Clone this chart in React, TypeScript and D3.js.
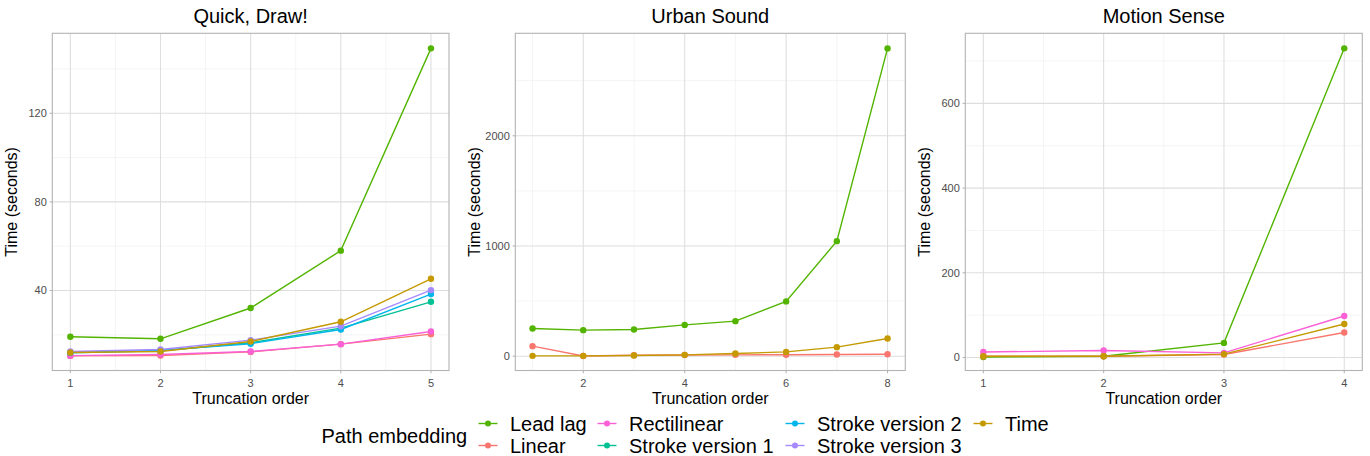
import { scaleLinear, line } from 'd3';

// series names in factor order (ggplot draws them in this order)
const embeddings = ['Lead lag', 'Linear', 'Rectilinear', 'Stroke version 1', 'Stroke version 2', 'Stroke version 3', 'Time'];
const embeddingColors = ['#53B400', '#F8766D', '#FB61D7', '#00C094', '#00B6EB', '#A58AFF', '#C49A00'];

// Quick, Draw! (truncation order 1..5)
const qdOrders = [1, 2, 3, 4, 5];
const qdLeadLag = [19.1, 18.2, 32.1, 58.0, 149.3];
const qdLinear = [10.5, 10.7, 12.3, 15.8, 20.3];
const qdRectilinear = [10.6, 11.1, 12.5, 15.8, 21.5];
const qdStroke1 = [11.9, 12.8, 16.4, 23.0, 34.9];
const qdStroke2 = [12.1, 13.0, 16.0, 22.4, 38.4];
const qdStroke3 = [12.5, 13.4, 17.6, 23.9, 40.2];
const qdTime = [12.0, 12.5, 17.0, 25.9, 45.3];

// Urban Sound (truncation order 1..8)
const usOrders = [1, 2, 3, 4, 5, 6, 7, 8];
const usLeadLag = [251, 236, 242, 284, 318, 497, 1044, 2793];
const usLinear = [91, 2, 8, 10, 12, 13, 15, 18];
const usTime = [3, 3, 6, 12, 24, 39, 82, 160];

// Motion Sense (truncation order 1..4)
const msOrders = [1, 2, 3, 4];
const msLeadLag = [1, 3, 34.5, 730];
const msLinear = [3, 3, 7, 59];
const msRectilinear = [13, 16.5, 11, 98];
const msTime = [3, 3, 8, 79];

type Series = { name: string; values: number[] };

type PanelSpec = {
  title: string;
  left: number;
  right: number;
  xDomain: [number, number];
  yDomain: [number, number];
  xTicks: number[];
  xMinor: number[];
  yTicks: number[];
  yMinor: number[];
  orders: number[];
  series: Series[];
};

const TOP = 33.3;
const BOTTOM = 370.5;
const FONT = '"Liberation Sans", Arial, Helvetica, sans-serif';

const panels: PanelSpec[] = [
  {
    title: 'Quick, Draw!',
    left: 52.3, right: 449,
    xDomain: [0.8, 5.2], yDomain: [3.9, 156.1],
    xTicks: [1, 2, 3, 4, 5], xMinor: [1.5, 2.5, 3.5, 4.5],
    yTicks: [40, 80, 120], yMinor: [20, 60, 100, 140],
    orders: qdOrders,
    series: [
      { name: 'Lead lag', values: qdLeadLag },
      { name: 'Linear', values: qdLinear },
      { name: 'Rectilinear', values: qdRectilinear },
      { name: 'Stroke version 1', values: qdStroke1 },
      { name: 'Stroke version 2', values: qdStroke2 },
      { name: 'Stroke version 3', values: qdStroke3 },
      { name: 'Time', values: qdTime },
    ],
  },
  {
    title: 'Urban Sound',
    left: 515.3, right: 905.3,
    xDomain: [0.66, 8.35], yDomain: [-130, 2930],
    xTicks: [2, 4, 6, 8], xMinor: [1, 3, 5, 7],
    yTicks: [0, 1000, 2000], yMinor: [500, 1500, 2500],
    orders: usOrders,
    series: [
      { name: 'Lead lag', values: usLeadLag },
      { name: 'Linear', values: usLinear },
      { name: 'Time', values: usTime },
    ],
  },
  {
    title: 'Motion Sense',
    left: 965.3, right: 1362.3,
    xDomain: [0.85, 4.15], yDomain: [-30.7, 765.5],
    xTicks: [1, 2, 3, 4], xMinor: [1.5, 2.5, 3.5],
    yTicks: [0, 200, 400, 600], yMinor: [100, 300, 500, 700],
    orders: msOrders,
    series: [
      { name: 'Lead lag', values: msLeadLag },
      { name: 'Linear', values: msLinear },
      { name: 'Rectilinear', values: msRectilinear },
      { name: 'Time', values: msTime },
    ],
  },
];

const colorOf = (name: string) => embeddingColors[embeddings.indexOf(name)];

function Panel({ p }: { p: PanelSpec }) {
  const x = scaleLinear().domain(p.xDomain).range([p.left, p.right]);
  const y = scaleLinear().domain(p.yDomain).range([BOTTOM, TOP]);
  const path = line<number>()
    .x((_, i) => x(p.orders[i]))
    .y((d) => y(d));
  const cx = (p.left + p.right) / 2;
  return (
    <g>
      <rect x={p.left} y={TOP} width={p.right - p.left} height={BOTTOM - TOP} fill="#fff" />
      {p.yMinor.map((v) => (
        <line key={'ym' + v} x1={p.left} x2={p.right} y1={y(v)} y2={y(v)} stroke="#ededed" strokeWidth={0.55} />
      ))}
      {p.xMinor.map((v) => (
        <line key={'xm' + v} x1={x(v)} x2={x(v)} y1={TOP} y2={BOTTOM} stroke="#ededed" strokeWidth={0.55} />
      ))}
      {p.yTicks.map((v) => (
        <line key={'yM' + v} x1={p.left} x2={p.right} y1={y(v)} y2={y(v)} stroke="#dedede" strokeWidth={1.07} />
      ))}
      {p.xTicks.map((v) => (
        <line key={'xM' + v} x1={x(v)} x2={x(v)} y1={TOP} y2={BOTTOM} stroke="#dedede" strokeWidth={1.07} />
      ))}
      {p.series.map((s) => (
        <path key={'l' + s.name} d={path(s.values) || ''} fill="none" stroke={colorOf(s.name)} strokeWidth={1.4} />
      ))}
      {p.series.map((s) =>
        s.values.map((v, i) => (
          <circle key={'c' + s.name + i} cx={x(p.orders[i])} cy={y(v)} r={3.2} fill={colorOf(s.name)} />
        ))
      )}
      <rect x={p.left} y={TOP} width={p.right - p.left} height={BOTTOM - TOP} fill="none" stroke="#b3b3b3" strokeWidth={1.1} />
      {p.yTicks.map((v) => (
        <g key={'yt' + v}>
          <line x1={p.left - 2.7} x2={p.left} y1={y(v)} y2={y(v)} stroke="#b3b3b3" strokeWidth={1.07} />
          <text x={p.left - 5.5} y={y(v)} dy="0.35em" textAnchor="end" fontSize={11} fill="#4d4d4d">{v}</text>
        </g>
      ))}
      {p.xTicks.map((v) => (
        <g key={'xt' + v}>
          <line x1={x(v)} x2={x(v)} y1={BOTTOM} y2={BOTTOM + 2.7} stroke="#b3b3b3" strokeWidth={1.07} />
          <text x={x(v)} y={BOTTOM + 16} textAnchor="middle" fontSize={11} fill="#4d4d4d">{v}</text>
        </g>
      ))}
      <text x={cx} y={23} textAnchor="middle" fontSize={20} fill="#000">{p.title}</text>
      <text x={cx} y={404} textAnchor="middle" fontSize={16} fill="#000">Truncation order</text>
      <text
        transform={`translate(${p.left - 35},${(TOP + BOTTOM) / 2}) rotate(-90)`}
        textAnchor="middle"
        fontSize={16}
        fill="#000"
      >
        Time (seconds)
      </text>
    </g>
  );
}

// legend columns: positions of key centres
const legendCols = [488, 607, 795, 983];

function Legend() {
  return (
    <g>
      <text x={321.5} y={442.5} fontSize={20} fill="#000">Path embedding</text>
      {embeddings.map((name, i) => {
        const col = Math.floor(i / 2);
        const row = i % 2;
        const kx = legendCols[col];
        const ky = 423.5 + row * 22;
        return (
          <g key={name}>
            <line x1={kx - 9.5} x2={kx + 9.5} y1={ky} y2={ky} stroke={embeddingColors[i]} strokeWidth={1.4} />
            <circle cx={kx} cy={ky} r={3} fill={embeddingColors[i]} />
            <text x={kx + 22} y={ky} dy="0.35em" fontSize={20} fill="#000">{name}</text>
          </g>
        );
      })}
    </g>
  );
}

export default function App() {
  return (
    <svg
      width={1370}
      height={456}
      style={{ position: 'absolute', left: 0, top: 0, background: '#fff', fontFamily: FONT }}
    >
      <rect width={1370} height={456} fill="#fff" />
      {panels.map((p) => (
        <Panel key={p.title} p={p} />
      ))}
      <Legend />
    </svg>
  );
}
